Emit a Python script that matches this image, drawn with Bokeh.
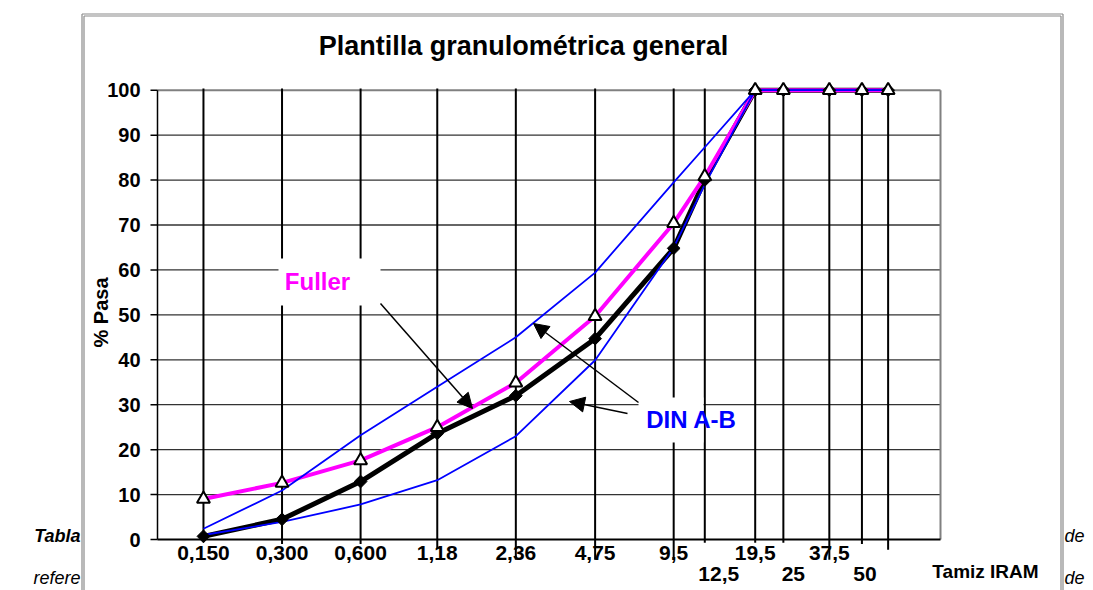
import math
from bokeh.plotting import figure
from bokeh.models import Range1d, Arrow, NormalHead
from bokeh.core.properties import value
from bokeh.embed import file_html
from bokeh.resources import INLINE

# ---------------- data ----------------
tamices = [0.15, 0.3, 0.6, 1.18, 2.36, 4.75, 9.5, 12.5, 19.5, 25, 37.5, 50, 63]
fuller = [9.0, 12.6, 17.6, 25.0, 34.9, 49.7, 70.4, 80.8, 100, 100, 100, 100, 100]
muestra = [0.7, 4.5, 12.9, 23.6, 32.0, 44.7, 64.8, 80.0, 100, 100, 100, 100, 100]
din_a = [1.0, 3.9, 7.8, 13.2, 23.0, 39.9, 65.0, 79.0, 100, 100, 100, 100, 100]
din_b = [2.4, 10.9, 23.2, 34.0, 45.0, 59.4, 79.5, 87.3, 100, 100, 100, 100, 100]
fila1_x = [0.15, 0.3, 0.6, 1.18, 2.36, 4.75, 9.5, 19.5, 37.5]
fila1_txt = ["0,150", "0,300", "0,600", "1,18", "2,36", "4,75", "9,5", "19,5", "37,5"]
fila2_x = [12.5, 25, 50]
fila2_txt = ["12,5", "25", "50"]
y_ticks = list(range(0, 101, 10))

FONT = "Liberation Sans"
W, H = 1093, 590
X0, X1 = 0.1, 100.0          # log axis range of the plot area
PL, PR, PT, PB = 157, 940, 89.7, 539   # plot-area pixel box

def px2x(px):
    return X0 * 10 ** ((px - PL) / (PR - PL) * math.log10(X1 / X0))

def py2y(py):
    return (PB - py) / (PB - PT) * 100.0

p = figure(width=W, height=H, x_axis_type="log",
           x_range=Range1d(px2x(0), px2x(W)), y_range=Range1d(py2y(H), py2y(0)),
           x_axis_location=None, y_axis_location=None,
           output_backend="svg", toolbar_location=None,
           min_border=0)
p.min_border_left = p.min_border_right = p.min_border_top = p.min_border_bottom = 0
p.outline_line_color = None
p.background_fill_color = "white"
p.border_fill_color = "white"
p.grid.visible = False

def txt(x, y, t, size, style="bold", color="black", align="center", baseline="middle",
        angle=0.0, x_offset=0):
    p.text(x=x, y=y, text=t, angle=angle, x_offset=x_offset,
           text_font=value(FONT), text_font_size=value(size),
           text_font_style=value(style), text_color=color,
           text_align=value(align), text_baseline=value(baseline))

# ---- chart box (double gray border) ----
ytop_a, ytop_b, ybot = py2y(13.5), py2y(15.5), py2y(H + 10)
p.segment(x0=[px2x(81.5), px2x(83.5), px2x(1060.5), px2x(1062.5)],
          y0=[ytop_a, ytop_b, ytop_b, ytop_a],
          x1=[px2x(81.5), px2x(83.5), px2x(1060.5), px2x(1062.5)],
          y1=[ybot] * 4, line_color="#8a8a8a", line_width=1.2)
p.segment(x0=[px2x(81.5), px2x(83.5)], y0=[ytop_a, ytop_b],
          x1=[px2x(1062.5), px2x(1060.5)], y1=[ytop_a, ytop_b],
          line_color="#8a8a8a", line_width=1.2)

# ---- surrounding document text (partly hidden by the chart box) ----
txt([px2x(80)], [py2y(535)], ["Tabla"], "18px", "bold italic", align="right", baseline="alphabetic")
txt([px2x(80)], [py2y(577)], ["refere"], "18px", "italic", align="right", baseline="alphabetic")
txt([px2x(1064)] * 2, [py2y(535), py2y(577)], ["de", "de"], "18px", "italic",
    align="left", baseline="alphabetic")

# ---- title ----
txt([px2x(523)], [py2y(45)], ["Plantilla granulométrica general"], "27px")

# ---- horizontal grid lines ----
gy = [t for t in y_ticks if 0 < t < 100]
p.segment(x0=[X0] * len(gy), y0=gy, x1=[X1] * len(gy), y1=gy,
          line_color="#333333", line_width=1.3)

# ---- plot-area border ----
p.segment(x0=[X0, X1], y0=[100, 100], x1=[X1, X1], y1=[100, 0],
          line_color="#808080", line_width=2)

# ---- vertical sieve lines ----
ext = [-0.6, -1, -1, -2, -4.5, -4.5, -4.5, -0.7, -0.7, -0.7, -4.5, -1, -2.3]
p.segment(x0=tamices, y0=[100.4] * len(tamices), x1=tamices, y1=ext,
          line_color="black", line_width=2)

# ---- axes lines, ticks and labels ----
p.segment(x0=[X0], y0=[0], x1=[X0], y1=[100], line_color="black", line_width=1.5)
p.segment(x0=[X0], y0=[0], x1=[X1], y1=[0], line_color="black", line_width=2)
p.segment(x0=[px2x(150)] * len(y_ticks), y0=y_ticks, x1=[X0] * len(y_ticks), y1=y_ticks,
          line_color="black", line_width=1.5)
txt([px2x(140)] * len(y_ticks), y_ticks, [str(t) for t in y_ticks], "20px", align="right")
txt([px2x(100)], [py2y(312)], ["% Pasa"], "20px", angle=math.pi / 2)

txt(fila1_x, [py2y(552)] * len(fila1_x), fila1_txt, "21px")
txt(fila2_x, [py2y(573)] * len(fila2_x), fila2_txt, "21px", x_offset=[14, 10, 3])
txt([px2x(985)], [py2y(571)], ["Tamiz IRAM"], "19px")

# ---- white boxes behind the callout labels ----
p.quad(left=px2x(278), right=px2x(380), bottom=py2y(305), top=py2y(258),
       fill_color="white", line_color=None)
p.quad(left=px2x(638), right=px2x(703), bottom=py2y(442), top=py2y(397),
       fill_color="white", line_color=None)

# ---- curves ----
p.line(tamices, muestra, line_color="black", line_width=5)
p.line(tamices, fuller, line_color="#FF00FF", line_width=4)
p.line(tamices, din_a, line_color="#0000FF", line_width=1.8)
p.line(tamices, din_b, line_color="#0000FF", line_width=1.8)
p.scatter(tamices, muestra, marker="square", angle=math.pi / 4, size=9,
          fill_color="black", line_color="black")
p.scatter(tamices, fuller, marker="triangle", size=13, fill_color="white",
          line_color="black", line_width=2)

# ---- pointer arrows ----
for (x0, y0, x1, y1) in [(380, 303, 472, 408), (638, 402, 533, 323), (627, 413, 569, 401)]:
    p.add_layout(Arrow(end=NormalHead(size=15, fill_color="black", line_color="black"),
                       x_start=px2x(x0), y_start=py2y(y0), x_end=px2x(x1), y_end=py2y(y1),
                       line_color="black", line_width=1.5))

# ---- callout labels ----
txt([px2x(317)], [py2y(281)], ["Fuller"], "24px", color="#FF00FF")
txt([px2x(691)], [py2y(419)], ["DIN A-B"], "24px", color="#0000FF")

open("out.html", "w").write(file_html(p, INLINE))
